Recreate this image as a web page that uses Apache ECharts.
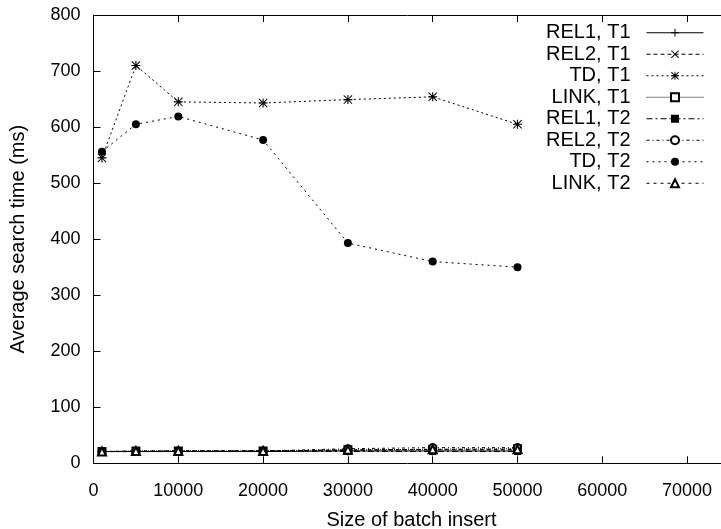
<!DOCTYPE html>
<html>
<head>
<meta charset="utf-8">
<script src="https://cdn.jsdelivr.net/npm/echarts@6/dist/echarts.min.js"></script>
<style>
html,body{margin:0;padding:0;background:#fff;}
#chart{width:721px;height:529px;}
</style>
</head>
<body>
<div id="chart"></div>
<script>
// ---- data ----
const batchSizes = [1000, 5000, 10000, 20000, 30000, 40000, 50000];
const seriesNames = ['REL1, T1', 'REL2, T1', 'TD, T1', 'LINK, T1', 'REL1, T2', 'REL2, T2', 'TD, T2', 'LINK, T2'];
const rel1T1 = [21, 21, 21, 21, 22, 22, 22];
const rel2T1 = [21, 21, 22, 22, 23, 24, 24];
const tdT1   = [545, 710, 645, 643, 649, 654, 605];
const linkT1 = [21, 22, 22, 22, 24, 25, 26];
const rel1T2 = [21, 21, 21, 22, 21, 21, 21];
const rel2T2 = [21, 21, 22, 22, 26, 28, 28];
const tdT2   = [556, 605, 619, 577, 393, 360, 350];
const linkT2 = [21, 22, 22, 22, 24, 25, 25];
const xTicks = [0, 10000, 20000, 30000, 40000, 50000, 60000, 70000];
const yTicks = [0, 100, 200, 300, 400, 500, 600, 700, 800];

const allValues = [rel1T1, rel2T1, tdT1, linkT1, rel1T2, rel2T2, tdT2, linkT2];

const PLUS = 'path://M4.4,0H5.6V10H4.4Z M0,4.4H10V5.6H0Z';
const CROSS = 'path://M0.8,0L5,4.2L9.2,0L10,0.8L5.8,5L10,9.2L9.2,10L5,5.8L0.8,10L0,9.2L4.2,5L0,0.8Z';
const STAR = 'path://M4.4,0H5.6V10H4.4Z M0,4.4H10V5.6H0Z M0.8,0L5,4.2L9.2,0L10,0.8L5.8,5L10,9.2L9.2,10L5,5.8L0.8,10L0,9.2L4.2,5L0,0.8Z';

const styles = [
  {symbol: PLUS, size: 9, dash: 'solid', empty: false},
  {symbol: CROSS, size: 8, dash: [4, 3], empty: false},
  {symbol: STAR, size: 9, dash: [2, 3], empty: false},
  {symbol: 'emptyRect', size: 7, dash: [1, 1], empty: true},
  {symbol: 'rect', size: 7, dash: [6, 3, 2, 3], empty: false},
  {symbol: 'emptyCircle', size: 7, dash: [3, 3, 1, 3], empty: true},
  {symbol: 'circle', size: 8, dash: [2, 4], empty: false},
  {symbol: 'emptyTriangle', size: 8, dash: [3, 4], empty: true}
];

const FONT = 'Liberation Sans, Arial, Helvetica, sans-serif';

const series = seriesNames.map((name, i) => ({
  name: name,
  type: 'line',
  data: batchSizes.map((x, j) => [x, allValues[i][j]]),
  symbol: styles[i].symbol,
  symbolSize: styles[i].size,
  showSymbol: true,
  lineStyle: {color: '#000', width: 1, type: styles[i].dash},
  itemStyle: styles[i].empty
    ? {color: '#000', borderColor: '#000', borderWidth: 1}
    : {color: '#000', borderWidth: 0},
  emphasis: {disabled: true},
  animation: false
}));

const chart = echarts.init(document.getElementById('chart'), null, {renderer: 'canvas'});
chart.setOption({
  backgroundColor: '#fff',
  animation: false,
  textStyle: {fontFamily: FONT},
  grid: {left: 93.5, right: -8.5, top: 15, bottom: 65.7, containLabel: false, outerBoundsMode: 'none'},
  legend: {
    orient: 'vertical',
    right: 17,
    top: 22,
    padding: 0,
    align: 'right',
    itemWidth: 57,
    itemHeight: 10,
    itemGap: 0,
    selectedMode: false,
    data: seriesNames,
    lineStyle: {width: 1},
    textStyle: {fontFamily: FONT, fontSize: 20, color: '#000', lineHeight: 21.5, padding: [0, 11, 0, 0]}
  },
  xAxis: [{
    type: 'value',
    position: 'bottom',
    min: 0, max: 75000, interval: 10000,
    name: 'Size of batch insert',
    nameLocation: 'middle',
    nameGap: 47,
    nameTextStyle: {fontFamily: FONT, fontSize: 20, color: '#000'},
    axisLine: {show: true, onZero: false, lineStyle: {color: '#000', width: 1}},
    axisTick: {show: true, inside: true, length: 7, lineStyle: {color: '#000'}},
    axisLabel: {show: true, margin: 19, fontFamily: FONT, fontSize: 18, color: '#000', formatter: v => String(v)},
    splitLine: {show: false}
  }, {
    type: 'value',
    position: 'top',
    min: 0, max: 75000, interval: 10000,
    axisLine: {show: true, onZero: false, lineStyle: {color: '#000', width: 1}},
    axisTick: {show: true, inside: true, length: 7, lineStyle: {color: '#000'}},
    axisLabel: {show: false},
    splitLine: {show: false}
  }],
  yAxis: [{
    type: 'value',
    position: 'left',
    min: 0, max: 800, interval: 100,
    name: 'Average search time (ms)',
    nameLocation: 'middle',
    nameGap: 65,
    nameTextStyle: {fontFamily: FONT, fontSize: 20, color: '#000'},
    axisLine: {show: true, onZero: false, lineStyle: {color: '#000', width: 1}},
    axisTick: {show: true, inside: true, length: 7, lineStyle: {color: '#000'}},
    axisLabel: {show: true, margin: 13, fontFamily: FONT, fontSize: 18, color: '#000', formatter: v => String(v)},
    splitLine: {show: false}
  }, {
    type: 'value',
    position: 'right',
    min: 0, max: 800, interval: 100,
    axisLine: {show: true, onZero: false, lineStyle: {color: '#000', width: 1}},
    axisTick: {show: true, inside: true, length: 7, lineStyle: {color: '#000'}},
    axisLabel: {show: false},
    splitLine: {show: false}
  }],
  series: series
});
</script>
</body>
</html>
